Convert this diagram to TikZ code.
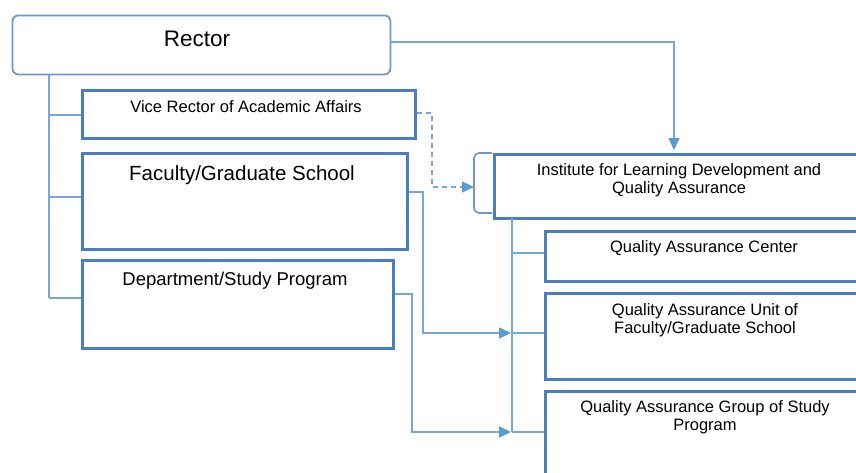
\documentclass[tikz,border=0pt]{standalone}
\usepackage{fontspec}
\setmainfont{Liberation Sans}
\usetikzlibrary{arrows.meta}
\definecolor{boxblue}{RGB}{74,126,193}
\definecolor{rectorblue}{RGB}{112,150,208}
\definecolor{linkblue}{RGB}{122,165,220}
\definecolor{tipblue}{RGB}{91,155,213}
\tikzset{
  unit/.style={draw=boxblue, line width=3.6pt, fill=white, inner sep=0pt, anchor=north west},
  head/.style={draw=rectorblue, line width=1.8pt, rounded corners=6pt, fill=white, inner sep=0pt, anchor=north west},
  caption/.style={inner sep=0pt, anchor=north, align=center, text=black},
  small/.style={font=\fontsize{16.5}{18.5}\selectfont},
  link/.style={draw=linkblue, line width=1.6pt},
  flow/.style={link, -{Triangle[length=12pt, width=11pt, color=tipblue]}},
  brace/.style={draw=rectorblue, line width=1.6pt, rounded corners=5pt},
}
\begin{document}
\begin{tikzpicture}[x=1pt, y=-1pt]
\useasboundingbox (0,0) rectangle (856,472);
\clip (0,0) rectangle (856,472);

% left column: university leadership
\node[head, minimum width=378pt, minimum height=59pt] (rector) at (11.5,14.5) {};
\node[unit, minimum width=333pt, minimum height=48pt] (vice) at (80.5,88.5) {};
\node[unit, minimum width=325pt, minimum height=96pt] (fac) at (80.5,151.5) {};
\node[unit, minimum width=311pt, minimum height=88pt] (dept) at (80.5,258.5) {};

% right column: quality assurance bodies
\draw[brace] (492,153) -- (474,153) -- (474,213) -- (492,213);
\node[unit, minimum width=376pt, minimum height=64pt] (inst) at (492.5,152.5) {};
\node[unit, minimum width=325pt, minimum height=50pt] (qac) at (543.5,229.5) {};
\node[unit, minimum width=325pt, minimum height=86pt] (qau) at (543.5,291.5) {};
\node[unit, minimum width=325pt, minimum height=120pt] (qag) at (543.5,389.5) {};

% captions
\node[caption, font=\fontsize{22.5}{24}\selectfont] (rectorT) at (197,31) {Rector};
\node[caption, small] (viceT) at (246,100) {Vice Rector of Academic Affairs};
\node[caption, font=\fontsize{20.5}{22}\selectfont] (facT) at (242,165) {Faculty/Graduate School};
\node[caption, font=\fontsize{18.5}{20}\selectfont] (deptT) at (235,272) {Department/Study Program};
\node[caption, small] (instT) at (679,163) {Institute for Learning Development and\\Quality Assurance};
\node[caption, small] (qacT) at (704,240) {Quality Assurance Center};
\node[caption, small] (qauT) at (705,303) {Quality Assurance Unit of\\Faculty/Graduate School};
\node[caption, small] (qagT) at (705,400) {Quality Assurance Group of Study\\Program};

% junction points
\coordinate (trunkL) at (49,74);
\coordinate (instIn) at (674,150);
\coordinate (instL) at (474,187);
\coordinate (trunkR) at (512,218);
\coordinate (qauIn) at (511,333);
\coordinate (qagIn) at (511,432);

% rector hierarchy
\draw[link] (trunkL) -- (49,298);
\draw[link] (49,115) -- (vice.west |- 0,115);
\draw[link] (49,197) -- (fac.west |- 0,197);
\draw[link] (49,298) -- (dept.west |- 0,298);

% institute hierarchy
\draw[link] (trunkR) -- (512,432);
\draw[link] (512,253) -- (qac.west |- 0,253);
\draw[link] (512,333) -- (qau.west |- 0,333);
\draw[link] (512,432) -- (qag.west |- 0,432);

% coordination links
\draw[flow] (rector.east |- 0,42) -| (instIn);
\draw[flow, dash pattern=on 5pt off 4pt] (vice.east |- 0,113) -- (432,113) |- (instL);
\draw[flow] (fac.east |- 0,192) -- (423,192) |- (qauIn);
\draw[flow] (dept.east |- 0,294) -- (412,294) |- (qagIn);
\end{tikzpicture}
\end{document}
